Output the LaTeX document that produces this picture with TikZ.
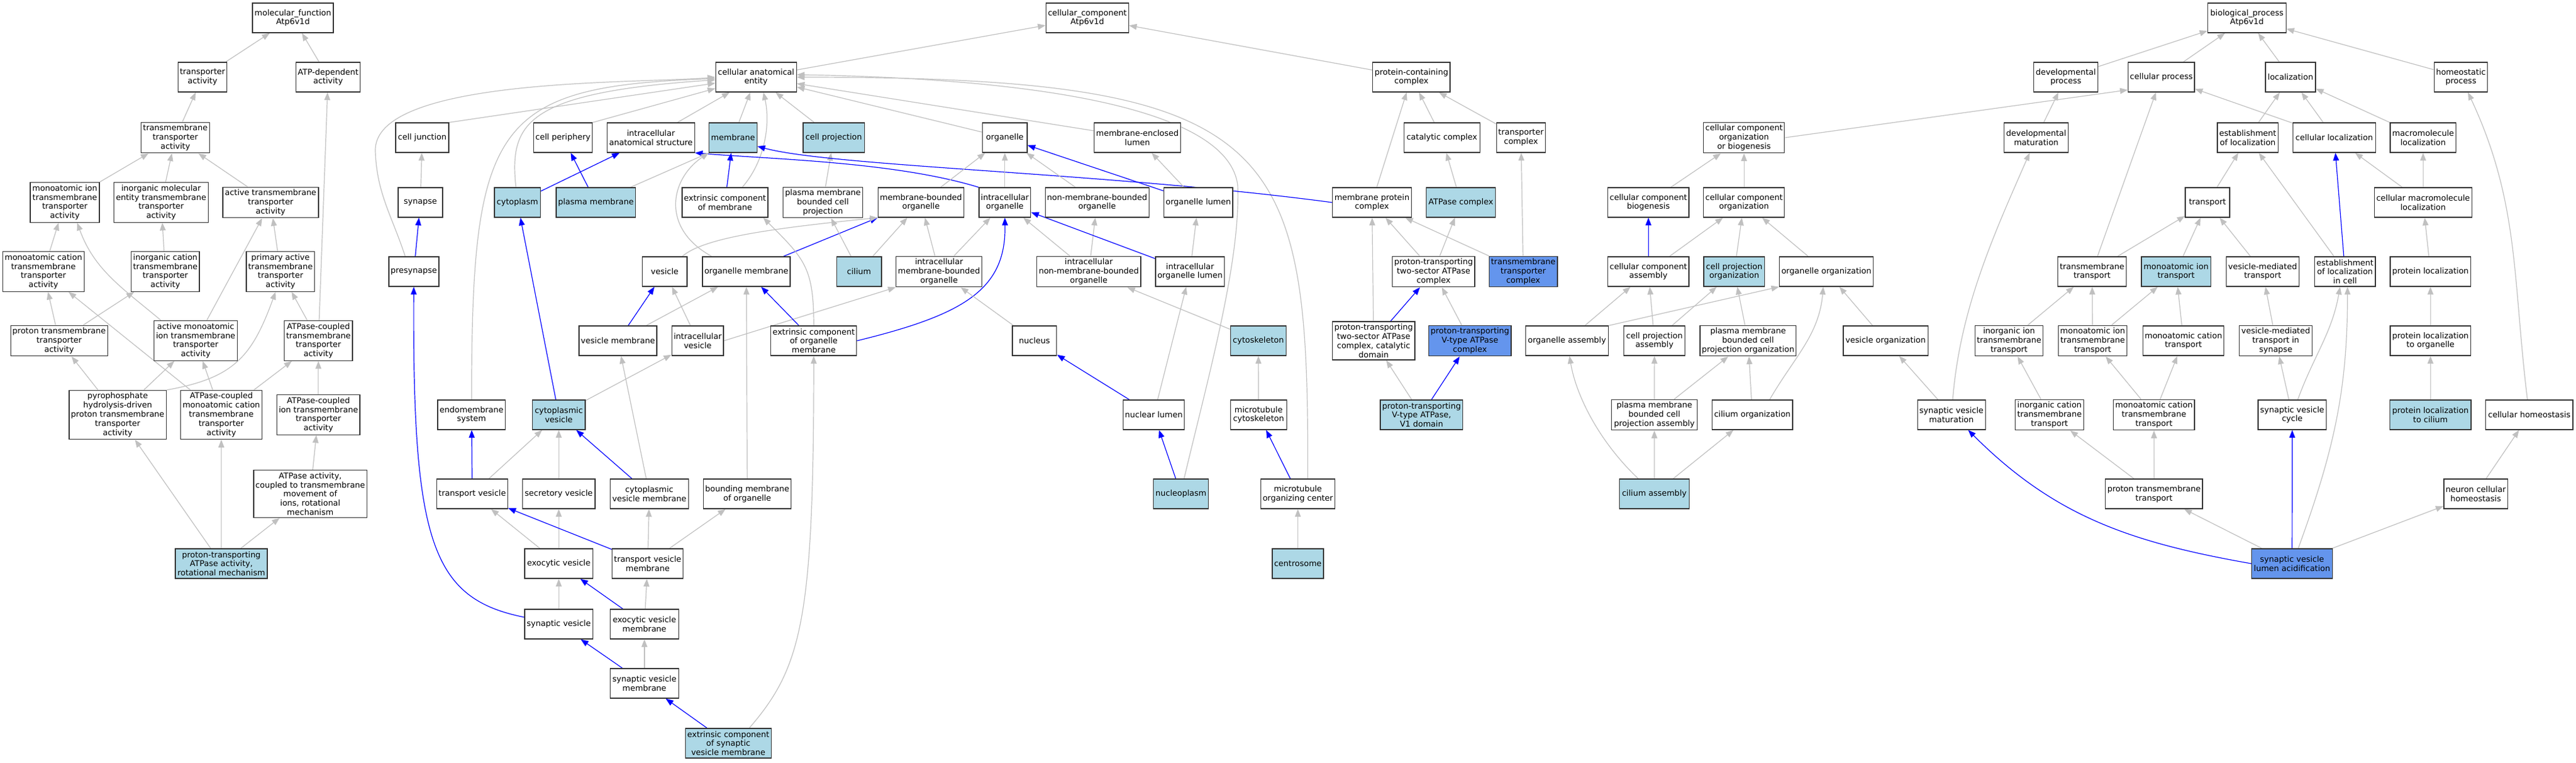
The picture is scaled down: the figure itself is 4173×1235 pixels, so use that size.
\documentclass[tikz,border=0pt]{standalone}
\usepackage{fontspec}
\setmainfont{DejaVu Sans}
\usetikzlibrary{arrows.meta,backgrounds}
\definecolor{hitblue}{HTML}{ADD8E6}
\definecolor{mainblue}{HTML}{6495ED}
\definecolor{isagray}{HTML}{C0C0C0}

\begin{document}
\begin{tikzpicture}[x=1pt, y=-1pt,
  goterm/.style = {draw=black!80, line width=1.3pt, fill=white, align=center, minimum height=48pt, inner xsep=3pt, inner ysep=3.7pt, font=\fontsize{13}{14.8}\selectfont},
  hitterm/.style = {goterm, fill=hitblue},
  mainterm/.style = {goterm, fill=mainblue},
  wd/.style = {minimum width=#1pt},
  isa/.style = {draw=isagray, line width=1.2pt, -{Triangle[length=12.5pt, width=9.5pt]}},
  partof/.style = {isa, draw=blue}]
\useasboundingbox (0,0) rectangle (4173,1235);

\node[goterm, wd=131] (mfroot) at (474.5,29) {molecular\_function\\Atp6v1d};
\node[goterm, wd=78] (mftransp) at (328,125) {transporter\\activity};
\node[goterm, wd=103.5] (mfatpdep) at (531.5,125) {ATP-dependent\\activity};
\node[goterm, wd=111] (mftm) at (284,223) {transmembrane\\transporter\\activity};
\node[goterm, wd=112] (mfion) at (105,328) {monoatomic ion\\transmembrane\\transporter\\activity};
\node[goterm, wd=152] (mfinorgmol) at (261,328) {inorganic molecular\\entity transmembrane\\transporter\\activity};
\node[goterm, wd=155] (mfactive) at (438.4,328) {active transmembrane\\transporter\\activity};
\node[goterm, wd=132] (mfcation) at (70.3,440) {monoatomic cation\\transmembrane\\transporter\\activity};
\node[goterm, wd=110] (mfinorgcat) at (267.8,440) {inorganic cation\\transmembrane\\transporter\\activity};
\node[goterm, wd=110] (mfprimary) at (454.4,440) {primary active\\transmembrane\\transporter\\activity};
\node[goterm, wd=156] (mfproton) at (95.8,552) {proton transmembrane\\transporter\\activity};
\node[goterm, wd=134] (mfactmono) at (317,552) {active monoatomic\\ion transmembrane\\transporter\\activity};
\node[goterm, wd=110] (mfatpcoup) at (515.8,552) {ATPase-coupled\\transmembrane\\transporter\\activity};
\node[goterm, wd=155.4] (mfpyro) at (190.6,672) {pyrophosphate\\hydrolysis-driven\\proton transmembrane\\transporter\\activity};
\node[goterm, wd=131.3] (mfatpmono) at (358.5,672) {ATPase-coupled\\monoatomic cation\\transmembrane\\transporter\\activity};
\node[goterm, wd=134.4] (mfatpion) at (515.8,672) {ATPase-coupled\\ion transmembrane\\transporter\\activity};
\node[goterm, wd=182] (mfatprot) at (502.6,800) {ATPase activity,\\coupled to transmembrane\\movement of\\ions, rotational\\mechanism};
\node[hitterm, wd=149] (mfprotrot) at (358.5,913) {proton-transporting\\ATPase activity,\\rotational mechanism};

\node[goterm, wd=134] (ccroot) at (1761.3,29) {cellular\_component\\Atp6v1d};
\node[goterm, wd=130.8] (cae) at (1224.8,125) {cellular anatomical\\entity};
\node[goterm, wd=125] (pcc) at (2286.4,125) {protein-containing\\complex};
\node[goterm, wd=86] (celljunc) at (684,223) {cell junction};
\node[goterm, wd=94.2] (cellper) at (912,223) {cell periphery};
\node[goterm, wd=141] (ias) at (1054.5,223) {intracellular\\anatomical structure};
\node[hitterm, wd=77.7] (membrane) at (1187.5,223) {membrane};
\node[hitterm, wd=99.2] (cellproj) at (1350.6,223) {cell projection};
\node[goterm, wd=72.3] (organelle) at (1627.8,223) {organelle};
\node[goterm, wd=139.3] (melumen) at (1842.5,223) {membrane-enclosed\\lumen};
\node[goterm, wd=122.7] (catcomplex) at (2335.8,223) {catalytic complex};
\node[goterm, wd=78.1] (trcomplex) at (2463.9,223) {transporter\\complex};
\node[goterm, wd=72] (synapse) at (681,328) {synapse};
\node[hitterm, wd=74.5] (cytoplasm) at (838.3,328) {cytoplasm};
\node[hitterm, wd=128.5] (plasmamem) at (965.3,328) {plasma membrane};
\node[goterm, wd=138.8] (extmem) at (1174.4,328) {extrinsic component\\of membrane};
\node[goterm, wd=128.7] (pmbcp) at (1333,328) {plasma membrane\\bounded cell\\projection};
\node[goterm, wd=138.8] (mbo) at (1491.9,328) {membrane-bounded\\organelle};
\node[goterm, wd=83] (intorg) at (1627.8,328) {intracellular\\organelle};
\node[goterm, wd=165.6] (nmbo) at (1777.2,328) {non-membrane-bounded\\organelle};
\node[goterm, wd=111.6] (orglumen) at (1941.2,328) {organelle lumen};
\node[goterm, wd=125.9] (mpc) at (2222.5,328) {membrane protein\\complex};
\node[hitterm, wd=112] (atpcomplex) at (2366.5,328) {ATPase complex};
\node[goterm, wd=81] (presynapse) at (670.4,440) {presynapse};
\node[goterm, wd=72.3] (vesicle) at (1076.8,440) {vesicle};
\node[goterm, wd=142] (orgmem) at (1209,440) {organelle membrane};
\node[hitterm, wd=72.5] (cilium) at (1391.6,440) {cilium};
\node[goterm, wd=138.4] (imbo) at (1521.2,440) {intracellular\\membrane-bounded\\organelle};
\node[goterm, wd=165.6] (inmbo) at (1763.8,440) {intracellular\\non-membrane-bounded\\organelle};
\node[goterm, wd=111.6] (intorglum) at (1927.8,440) {intracellular\\organelle lumen};
\node[goterm, wd=131.7] (pt2s) at (2322.3,440) {proton-transporting\\two-sector ATPase\\complex};
\node[mainterm, wd=109.8] (tmtc) at (2467.6,440) {transmembrane\\transporter\\complex};
\node[goterm, wd=126] (vesmem) at (1001,552) {vesicle membrane};
\node[goterm, wd=83.5] (intves) at (1130.2,552) {intracellular\\vesicle};
\node[goterm, wd=139] (extorgmem) at (1318.2,552) {extrinsic component\\of organelle\\membrane};
\node[goterm, wd=71.9] (nucleus) at (1675.8,552) {nucleus};
\node[hitterm, wd=90.3] (cytoskel) at (2038.5,552) {cytoskeleton};
\node[goterm, wd=131.3] (pt2scat) at (2225.2,552) {proton-transporting\\two-sector ATPase\\complex, catalytic\\domain};
\node[mainterm, wd=131.7] (ptvtype) at (2381.2,552) {proton-transporting\\V-type ATPase\\complex};
\node[goterm, wd=109.8] (endomem) at (763.9,672) {endomembrane\\system};
\node[hitterm, wd=85.3] (cytves) at (905.2,672) {cytoplasmic\\vesicle};
\node[goterm, wd=98.7] (nuclumen) at (1869.1,672) {nuclear lumen};
\node[goterm, wd=90.8] (mtcyto) at (2038.8,672) {microtubule\\cytoskeleton};
\node[hitterm, wd=131.7] (ptv1) at (2302.8,672) {proton-transporting\\V-type ATPase,\\V1 domain};
\node[goterm, wd=114.7] (trves) at (765,800) {transport vesicle};
\node[goterm, wd=117.4] (secves) at (905.2,800) {secretory vesicle};
\node[goterm, wd=126.8] (cytvesmem) at (1051.9,800) {cytoplasmic\\vesicle membrane};
\node[goterm, wd=141.5] (boundmem) at (1210.5,800) {bounding membrane\\of organelle};
\node[hitterm, wd=89.3] (nucleoplasm) at (1913.1,800) {nucleoplasm};
\node[goterm, wd=117.8] (mtoc) at (2102.5,800) {microtubule\\organizing center};
\node[goterm, wd=110.3] (exoves) at (905.2,913) {exocytic vesicle};
\node[goterm, wd=115.2] (trvesmem) at (1049.2,913) {transport vesicle\\membrane};
\node[hitterm, wd=83] (centrosome) at (2102.5,913) {centrosome};
\node[goterm, wd=110.3] (synves) at (905.2,1011) {synaptic vesicle};
\node[goterm, wd=110.7] (exovesmem) at (1043.9,1011) {exocytic vesicle\\membrane};
\node[goterm, wd=110.7] (synvesmem) at (1043.9,1107) {synaptic vesicle\\membrane};
\node[hitterm, wd=138.9] (extsynves) at (1179.8,1204) {extrinsic component\\of synaptic\\vesicle membrane};

\node[goterm, wd=126.7] (bproot) at (3639.9,29) {biological\_process\\Atp6v1d};
\node[goterm, wd=104.2] (devproc) at (3346.6,125) {developmental\\process};
\node[goterm, wd=107.5] (cellproc) at (3501.2,125) {cellular process};
\node[goterm, wd=80.9] (localiz) at (3710.4,125) {localization};
\node[goterm, wd=86] (homeo) at (3986.5,125) {homeostatic\\process};
\node[goterm, wd=130.4] (ccob) at (2825.2,223) {cellular component\\organization\\or biogenesis};
\node[goterm, wd=103.8] (devmat) at (3298.6,223) {developmental\\maturation};
\node[goterm, wd=98.6] (estloc) at (3641.3,223) {establishment\\of localization};
\node[goterm, wd=133.7] (cellloc) at (3781.3,223) {cellular localization};
\node[goterm, wd=106.6] (macroloc) at (3925.3,223) {macromolecule\\localization};
\node[goterm, wd=130.4] (ccbio) at (2670.3,328) {cellular component\\biogenesis};
\node[goterm, wd=130.4] (ccorg) at (2825.2,328) {cellular component\\organization};
\node[goterm, wd=72] (transport) at (3576,328) {transport};
\node[goterm, wd=158] (cml) at (3925.3,328) {cellular macromolecule\\localization};
\node[goterm, wd=130.4] (ccasm) at (2670.3,440) {cellular component\\assembly};
\node[hitterm, wd=98.7] (cpo) at (2809.4,440) {cell projection\\organization};
\node[goterm, wd=152] (orgorg) at (2958.6,440) {organelle organization};
\node[goterm, wd=109.3] (tmtransport) at (3389,440) {transmembrane\\transport};
\node[hitterm, wd=112.2] (ionpt) at (3525.1,440) {monoatomic ion\\transport};
\node[goterm, wd=117.8] (vmt) at (3665.3,440) {vesicle-mediated\\transport};
\node[goterm, wd=98.6] (estlocell) at (3798.8,440) {establishment\\of localization\\in cell};
\node[goterm, wd=130.4] (protloc) at (3937.2,440) {protein localization};
\node[goterm, wd=134.4] (orgasm) at (2538.4,552) {organelle assembly};
\node[goterm, wd=99.1] (cpasm) at (2680.1,552) {cell projection\\assembly};
\node[goterm, wd=155.6] (pmbcpo) at (2831.8,552) {plasma membrane\\bounded cell\\projection organization};
\node[goterm, wd=137.3] (vesorg) at (3054.6,552) {vesicle organization};
\node[goterm, wd=110.2] (inorgiontm) at (3254.5,552) {inorganic ion\\transmembrane\\transport};
\node[goterm, wd=111.6] (moniontm) at (3390,552) {monoatomic ion\\transmembrane\\transport};
\node[goterm, wd=131.4] (moncatpt) at (3537,552) {monoatomic cation\\transport};
\node[goterm, wd=118.2] (vmtsyn) at (3686.6,552) {vesicle-mediated\\transport in\\synapse};
\node[goterm, wd=130.4] (protlocorg) at (3937.2,552) {protein localization\\to organelle};
\node[goterm, wd=139] (pmbcpa) at (2680,672) {plasma membrane\\bounded cell\\projection assembly};
\node[goterm, wd=130.8] (ciliumorg) at (2838.7,672) {cilium organization};
\node[goterm, wd=110.2] (svmat) at (3161.3,672) {synaptic vesicle\\maturation};
\node[goterm, wd=110.7] (inorgcattm) at (3320,672) {inorganic cation\\transmembrane\\transport};
\node[goterm, wd=131.5] (moncattm) at (3489.3,672) {monoatomic cation\\transmembrane\\transport};
\node[goterm, wd=110.8] (svcycle) at (3713.3,672) {synaptic vesicle\\cycle};
\node[hitterm, wd=131.4] (protloccil) at (3937.2,672) {protein localization\\to cilium};
\node[goterm, wd=141.2] (cellhomeo) at (4097.3,672) {cellular homeostasis};
\node[hitterm, wd=113] (ciliumasm) at (2679.9,800) {cilium assembly};
\node[goterm, wd=155.6] (protontm) at (3489.4,800) {proton transmembrane\\transport};
\node[goterm, wd=102.4] (neuronhomeo) at (4010.6,800) {neuron cellular\\homeostasis};
\node[mainterm, wd=130.9] (svla) at (3713,913) {synaptic vesicle\\lumen acidification};

\begin{scope}[on background layer]
\fill[white] (0,0) rectangle (4173,1235);
\draw[isa] (mftransp) -- (mfroot);
\draw[isa] (mfatpdep) -- (mfroot);
\draw[isa] (mftm) -- (mftransp);
\draw[isa] (mfion) -- (mftm);
\draw[isa] (mfinorgmol) -- (mftm);
\draw[isa] (mfactive) -- (mftm);
\draw[isa] (mfcation) -- (mfion);
\draw[isa] ([xshift=-56pt]mfactmono.north) to [out=140, in=-70] ([xshift=20pt]mfion.south);
\draw[isa] (mfinorgcat) -- (mfinorgmol);
\draw[isa] (mfactmono) -- (mfactive);
\draw[isa] (mfprimary) -- (mfactive);
\draw[isa] (mfproton) -- (mfcation);
\draw[isa] (mfproton) -- (mfinorgcat);
\draw[isa] (mfatpcoup) -- (mfprimary);
\draw[isa] (mfatpcoup) -- (mfatpdep);
\draw[isa] (mfpyro) -- (mfproton);
\draw[isa] (mfpyro) -- (mfactmono);
\draw[isa] (mfpyro.north east) to [out=10, in=-110, looseness=1.2] ([xshift=-8pt]mfprimary.south);
\draw[isa] (mfatpmono) -- (mfcation);
\draw[isa] (mfatpmono) -- (mfactmono);
\draw[isa] (mfatpmono) -- (mfatpcoup);
\draw[isa] (mfatpion) -- (mfatpcoup);
\draw[isa] (mfatprot) -- (mfatpion);
\draw[isa] (mfprotrot) -- (mfpyro);
\draw[isa] (mfprotrot) -- (mfatpmono);
\draw[isa] (mfprotrot) -- (mfatprot);

\draw[isa] (cae) -- (ccroot);
\draw[isa] (pcc) -- (ccroot);
\draw[isa] (celljunc.north east) -- (cae);
\draw[isa] (cellper.north east) -- (cae);
\draw[isa] (ias) -- (cae);
\draw[isa] (membrane) -- (cae);
\draw[isa] (cellproj) -- (cae);
\draw[isa] (organelle) -- (cae);
\draw[isa] (melumen) -- (cae);
\draw[isa] (endomem) .. controls (764,200) and (800,140) .. (cae);
\draw[isa] (cytoplasm) .. controls (825,200) and (850,150) .. (cae);
\draw[isa] ([xshift=-14pt]presynapse.north) to [out=108, in=-88] (608,245) to [out=92, in=185, looseness=0.55] (cae.west);
\draw[isa] ([xshift=28pt]extmem.north) .. controls (1240,260) and (1248,200) .. ([xshift=12pt]cae.south);
\draw[isa] ([xshift=16pt]mtoc.north) .. controls (2120,230) and (2080,125) .. (cae.east);
\draw[isa] ([xshift=5pt]nucleoplasm.north) .. controls (1960,600) and (2010,420) .. (2005,300) .. controls (1990,180) and (1700,128) .. ([yshift=4pt]cae.east);
\draw[isa] (synapse) -- (celljunc);
\draw[partof] (presynapse) -- (synapse);
\draw[partof] (cytoplasm) -- (ias);
\draw[partof] (plasmamem) -- (cellper);
\draw[isa] (plasmamem) -- (membrane.south west);
\draw[partof] (extmem) -- (membrane);
\draw[isa] (pmbcp) -- (cellproj);
\draw[partof] (mpc.west) .. controls (1800,280) and (1350,270) .. ([yshift=-14pt]membrane.east);
\draw[partof] (intorg.north west) .. controls (1450,262) and (1250,258) .. (ias.south east);
\draw[isa] ([xshift=-56pt]orgmem.north) .. controls (1070,370) and (1085,290) .. (membrane.south west);
\draw[partof] (orgmem) -- (mbo.south west);
\draw[isa] (vesicle) .. controls (1140,385) and (1250,370) .. (mbo.south west);
\draw[isa] (cilium) -- (pmbcp);
\draw[isa] (cilium) -- (mbo);
\draw[isa] (mbo) -- (organelle);
\draw[isa] (intorg) -- (organelle);
\draw[isa] (nmbo) -- (organelle);
\draw[partof] (orglumen) -- (organelle);
\draw[isa] (orglumen) -- (melumen);
\draw[isa] (imbo) -- (mbo);
\draw[isa] (imbo) -- (intorg);
\draw[isa] (inmbo) -- (intorg);
\draw[isa] (inmbo) -- (nmbo);
\draw[partof] (intorglum) -- (intorg);
\draw[isa] (intorglum) -- (orglumen);
\draw[partof] (vesmem) -- (vesicle);
\draw[isa] (vesmem) -- (orgmem);
\draw[isa] (intves) -- (vesicle);
\draw[isa] (intves.east) -- (imbo.south west);
\draw[partof] (extorgmem) -- (orgmem);
\draw[isa] (extorgmem) to [out=90, in=-45, looseness=1.25] ([xshift=62pt]extmem.south);
\draw[partof] (extorgmem.east) .. controls (1560,510) and (1630,470) .. (intorg.south);
\draw[isa] (nucleus) -- (imbo);
\draw[isa] (cytoskel) -- (inmbo);
\draw[partof] (nuclumen) -- (nucleus);
\draw[isa] (nuclumen) -- (intorglum);
\draw[partof] (nucleoplasm) -- (nuclumen);
\draw[isa] (mtcyto) -- (cytoskel);
\draw[partof] (mtoc) -- (mtcyto);
\draw[isa] (centrosome) -- (mtoc);
\draw[partof] (cytves) -- (cytoplasm);
\draw[isa] (cytves) -- (intves);
\draw[partof] (trves) -- (endomem);
\draw[isa] (trves) -- (cytves);
\draw[isa] (secves) -- (cytves);
\draw[partof] (cytvesmem) -- (cytves);
\draw[isa] (cytvesmem) -- (vesmem);
\draw[isa] (boundmem) -- (orgmem);
\draw[isa] (exoves) -- (trves);
\draw[isa] (exoves) -- (secves);
\draw[partof] (trvesmem) -- (trves);
\draw[isa] (trvesmem) -- (cytvesmem);
\draw[isa] (trvesmem) -- (boundmem);
\draw[isa] (synves) -- (exoves);
\draw[partof] (synves) .. controls (700,970) and (668,880) .. (presynapse);
\draw[partof] (exovesmem) -- (exoves);
\draw[isa] (exovesmem) -- (trvesmem);
\draw[partof] (synvesmem) -- (synves);
\draw[isa] (synvesmem) -- (exovesmem);
\draw[partof] (extsynves) -- (synvesmem);
\draw[isa] ([xshift=34pt]extsynves.north) .. controls (1300,1080) and (1318,1000) .. (extorgmem.south);
\draw[isa] (mpc) -- (pcc);
\draw[isa] (catcomplex) -- (pcc);
\draw[isa] (trcomplex) -- (pcc);
\draw[isa] (atpcomplex) -- (catcomplex);
\draw[isa] (pt2s) -- (mpc);
\draw[isa] (pt2s) -- (atpcomplex);
\draw[isa] (tmtc) -- (mpc);
\draw[isa] (tmtc) -- (trcomplex);
\draw[isa] (pt2scat) -- (mpc);
\draw[partof] (pt2scat) -- (pt2s);
\draw[isa] (ptvtype) -- (pt2s);
\draw[partof] (ptv1) -- (ptvtype);
\draw[isa] (ptv1) -- (pt2scat);

\draw[isa] (devproc) -- (bproot);
\draw[isa] (cellproc) -- (bproot);
\draw[isa] (localiz) -- (bproot);
\draw[isa] (homeo) -- (bproot);
\draw[isa] (ccob.east) -- ([yshift=4pt]cellproc.south west);
\draw[isa] (devmat) -- (devproc);
\draw[isa] (estloc) -- (localiz);
\draw[isa] (cellloc) -- (cellproc);
\draw[isa] (cellloc) -- (localiz);
\draw[isa] (macroloc) -- (localiz);
\draw[isa] (ccorg) -- (ccob);
\draw[isa] (ccbio) -- (ccob);
\draw[partof] (ccasm) -- (ccbio);
\draw[isa] (ccasm) -- (ccorg);
\draw[isa] (cpo) -- (ccorg);
\draw[isa] (orgorg) -- (ccorg);
\draw[isa] (orgasm) -- (ccasm);
\draw[isa] (cpasm) -- (ccasm);
\draw[isa] (orgasm.north east) -- (orgorg.south west);
\draw[isa] (cpasm) -- (cpo);
\draw[isa] (pmbcpo) -- (cpo);
\draw[isa] (vesorg) -- (orgorg);
\draw[isa] (pmbcpa) -- (cpasm);
\draw[isa] (pmbcpa) -- (pmbcpo);
\draw[isa] ([xshift=-26pt]ciliumasm.north) .. controls (2590,715) and (2553,640) .. (orgasm);
\draw[isa] (ciliumasm) -- (pmbcpa);
\draw[isa] (ciliumasm) -- (ciliumorg);
\draw[isa] (ciliumorg) -- (pmbcpo);
\draw[isa] ([xshift=28pt]ciliumorg.north) to [out=60, in=-95] ([xshift=-5pt]orgorg.south);
\draw[isa] (svmat) -- (vesorg);
\draw[isa] (svmat) .. controls (3175,500) and (3230,380) .. (devmat);
\draw[isa] (tmtransport) -- (cellproc);
\draw[isa] (tmtransport) -- (transport);
\draw[isa] (inorgiontm) -- (tmtransport);
\draw[isa] (moniontm) -- (tmtransport);
\draw[isa] (moniontm) -- (ionpt);
\draw[isa] (inorgcattm) -- (inorgiontm);
\draw[isa] (moncattm) -- (moniontm);
\draw[isa] (moncattm) -- (moncatpt);
\draw[isa] (protontm) -- (inorgcattm);
\draw[isa] (protontm) -- (moncattm);
\draw[isa] (transport) -- (estloc);
\draw[isa] (ionpt) -- (transport);
\draw[isa] (vmt) -- (transport);
\draw[isa] (moncatpt) -- (ionpt);
\draw[isa] (vmtsyn) -- (vmt);
\draw[isa] (estlocell) -- (estloc);
\draw[partof] (estlocell) -- (cellloc);
\draw[isa] (cml) -- (cellloc);
\draw[isa] (cml) -- (macroloc);
\draw[isa] (protloc) -- (cml);
\draw[isa] (protlocorg) -- (protloc);
\draw[isa] (protloccil) -- (protlocorg);
\draw[isa] (svcycle) -- (vmtsyn);
\draw[isa] (svcycle) to [out=70, in=-100] ([xshift=-8pt]estlocell.south);
\draw[partof] (svla) -- (svcycle);
\draw[isa] ([xshift=10pt]svla.north) to [out=70, in=-90] ([xshift=4pt]estlocell.south);
\draw[isa] (svla) -- (protontm);
\draw[isa] (svla) -- (neuronhomeo);
\draw[partof] (svla.west) to [out=170, in=-45] ([xshift=27pt]svmat.south);
\draw[isa] (neuronhomeo) -- (cellhomeo);
\draw[isa] (cellhomeo) to [out=97, in=-65] (homeo);
\end{scope}
\end{tikzpicture}
\end{document}
